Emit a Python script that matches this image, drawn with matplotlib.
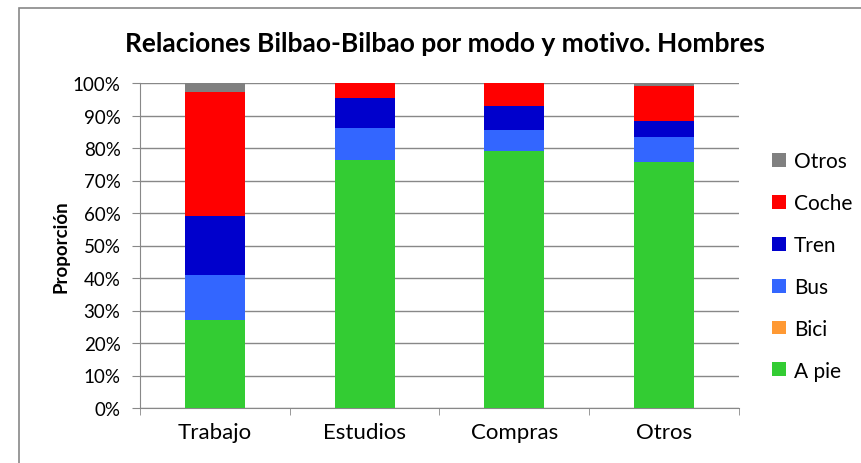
import matplotlib
matplotlib.use("Agg")
import matplotlib.pyplot as plt
from matplotlib.patches import Rectangle
import numpy as np

categories = ["Trabajo", "Estudios", "Compras", "Otros"]
a_pie = [27.1, 76.3, 79.1, 75.7]
bici = [0.0, 0.0, 0.0, 0.0]
bus = [13.8, 9.9, 6.4, 7.6]
tren = [18.3, 9.2, 7.5, 5.1]
coche = [38.1, 4.5, 7.0, 10.8]
otros = [2.7, 0.1, 0.0, 0.8]

series = [("A pie", a_pie, "#33CC33"), ("Bici", bici, "#FF9933"),
          ("Bus", bus, "#3366FF"), ("Tren", tren, "#0000CC"),
          ("Coche", coche, "#FF0000"), ("Otros", otros, "#808080")]

plt.rcParams['font.family'] = ['Lato', 'DejaVu Sans']

W, H = 862, 464
fig = plt.figure(figsize=(W/100, H/100), dpi=100)
fig.patches.append(Rectangle((19/W, -0.1), 2, 1.1 - 9/H, transform=fig.transFigure,
                             fill=False, edgecolor="#888888", linewidth=1.2))

ax = fig.add_axes([140/W, (H-409)/H, (739-140)/W, (409-84)/H])
x = np.arange(len(categories))
bottom = np.zeros(len(categories))
handles = []
for name, vals, col in series:
    v = np.array(vals) / 100.0
    b = ax.bar(x, v, 0.4, bottom=bottom, color=col, label=name, zorder=3)
    bottom += v
    handles.append(b)

ax.set_xlim(-0.5, len(categories) - 0.5)
ax.set_ylim(0, 1)
ax.set_yticks(np.linspace(0, 1, 11))
ax.set_yticklabels([f"{int(t)}%" for t in np.arange(0, 101, 10)], fontsize=13.5)
ax.set_xticks(x)
ax.set_xticklabels(categories, fontsize=16)
ax.tick_params(axis="x", length=0, pad=10)
ax.set_xticks(np.arange(-0.5, len(categories)), minor=True)
ax.tick_params(axis="x", which="minor", length=5, color="#888888", direction="out")
ax.tick_params(axis="y", length=6, color="#888888", direction="out", pad=8)
ax.yaxis.grid(True, color="#888888", linewidth=1.0, zorder=0)
for s in ["top", "right"]:
    ax.spines[s].set_visible(False)
for s in ["left", "bottom"]:
    ax.spines[s].set_color("#888888")
ax.set_ylabel("Proporción", fontsize=13.5, fontweight="bold", labelpad=2)

fig.text(0.5 * (125 + 765) / W, 1 - 44/H, "Relaciones Bilbao-Bilbao por modo y motivo. Hombres",
         ha="center", va="center", fontsize=19, fontweight="bold")

leg = fig.legend(handles[::-1], [s[0] for s in series][::-1], loc="upper left",
                 bbox_to_anchor=(764/W, 1 - 144/H), frameon=False, fontsize=15,
                 handlelength=0.65, handleheight=0.65, handletextpad=0.4,
                 labelspacing=1.05, borderaxespad=0)

fig.savefig("out.png", dpi=100)
